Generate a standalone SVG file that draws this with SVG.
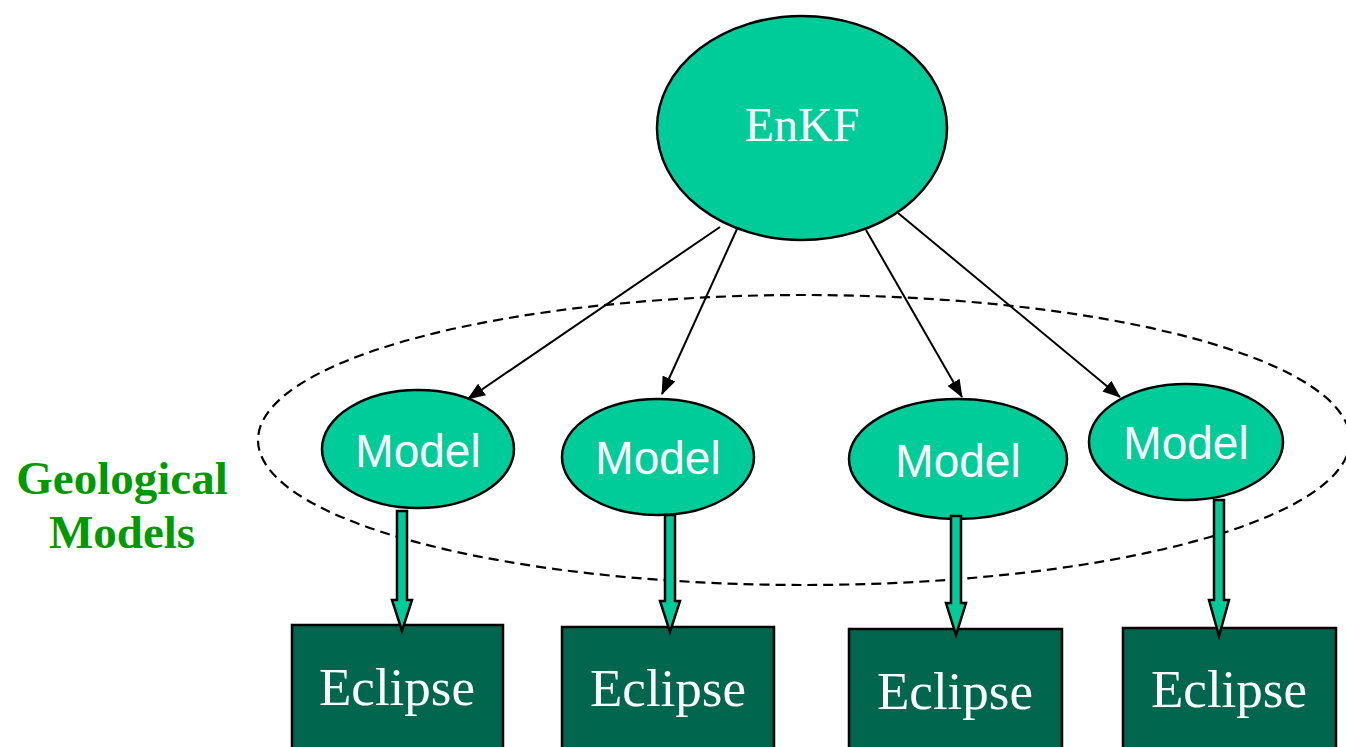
<svg xmlns="http://www.w3.org/2000/svg" width="1346" height="747" viewBox="0 0 1346 747">
<style>
.model{fill:#00CC99;stroke:#000;stroke-width:2.5}
.box{fill:#00664D;stroke:#000;stroke-width:2.5}
.mt{font-family:"Liberation Sans",Arial,sans-serif;font-size:46px;fill:#fff;text-anchor:middle}
.et{font-family:"Liberation Serif","Times New Roman",serif;font-size:53px;fill:#fff;text-anchor:middle}
.thin{stroke:#000;stroke-width:2;fill:none}
.block{fill:#00CC99;stroke:#000;stroke-width:2.5;stroke-linejoin:miter}
</style>
<defs>
<marker id="ah" markerUnits="userSpaceOnUse" markerWidth="18" markerHeight="14" refX="17" refY="7" orient="auto">
<path d="M0,0 L18,7 L0,14 Z" fill="#000"/>
</marker>
</defs>
<rect width="1346" height="747" fill="#fff"/>
<g id="group-ellipse">
<ellipse cx="804" cy="440" rx="546" ry="145" fill="none" stroke="#000" stroke-width="2.2" stroke-dasharray="10,6"/>
</g>
<g id="label-geo" font-family="'Liberation Serif','Times New Roman',serif" font-weight="bold" font-size="47" fill="#009900" text-anchor="middle">
<text x="122" y="494">Geological</text>
<text x="122" y="548">Models</text>
</g>
<g id="enkf">
<ellipse cx="802" cy="128" rx="145" ry="112" class="model"/>
<text x="802" y="141" font-family="'Liberation Serif','Times New Roman',serif" font-size="48" fill="#fff" text-anchor="middle">EnKF</text>
</g>
<g id="model1"><ellipse cx="418" cy="449" rx="96" ry="59" class="model"/><text x="418" y="467" class="mt">Model</text></g>
<g id="model2"><ellipse cx="658" cy="457" rx="96" ry="58" class="model"/><text x="658" y="474" class="mt">Model</text></g>
<g id="model3"><ellipse cx="958" cy="459" rx="109" ry="60" class="model"/><text x="958" y="477" class="mt">Model</text></g>
<g id="model4"><ellipse cx="1186" cy="442" rx="97" ry="58" class="model"/><text x="1186" y="459" class="mt">Model</text></g>
<g id="eclipse1"><rect x="292" y="625" width="211" height="130" class="box"/><text x="397" y="705" class="et">Eclipse</text></g>
<g id="eclipse2"><rect x="562" y="627" width="212" height="130" class="box"/><text x="668" y="706" class="et">Eclipse</text></g>
<g id="eclipse3"><rect x="849" y="629" width="213" height="130" class="box"/><text x="955" y="709" class="et">Eclipse</text></g>
<g id="eclipse4"><rect x="1123" y="628" width="213" height="130" class="box"/><text x="1229" y="707" class="et">Eclipse</text></g>
<g id="connectors">
<line x1="720" y1="227" x2="468" y2="399" class="thin" marker-end="url(#ah)"/>
<line x1="737" y1="229" x2="662" y2="394" class="thin" marker-end="url(#ah)"/>
<line x1="866" y1="230" x2="962" y2="397" class="thin" marker-end="url(#ah)"/>
<line x1="898" y1="213" x2="1120" y2="397" class="thin" marker-end="url(#ah)"/>
<polygon class="block" points="397,511 407,511 407,600 412,600 402,631 392,600 397,600"/>
<polygon class="block" points="665,515 675,515 675,601 680,601 670,632 660,601 665,601"/>
<polygon class="block" points="951,516 961,516 961,603 966,603 956,635 946,603 951,603"/>
<polygon class="block" points="1214,500 1224,500 1224,600 1229,600 1219,636 1209,600 1214,600"/>
</g>
</svg>
